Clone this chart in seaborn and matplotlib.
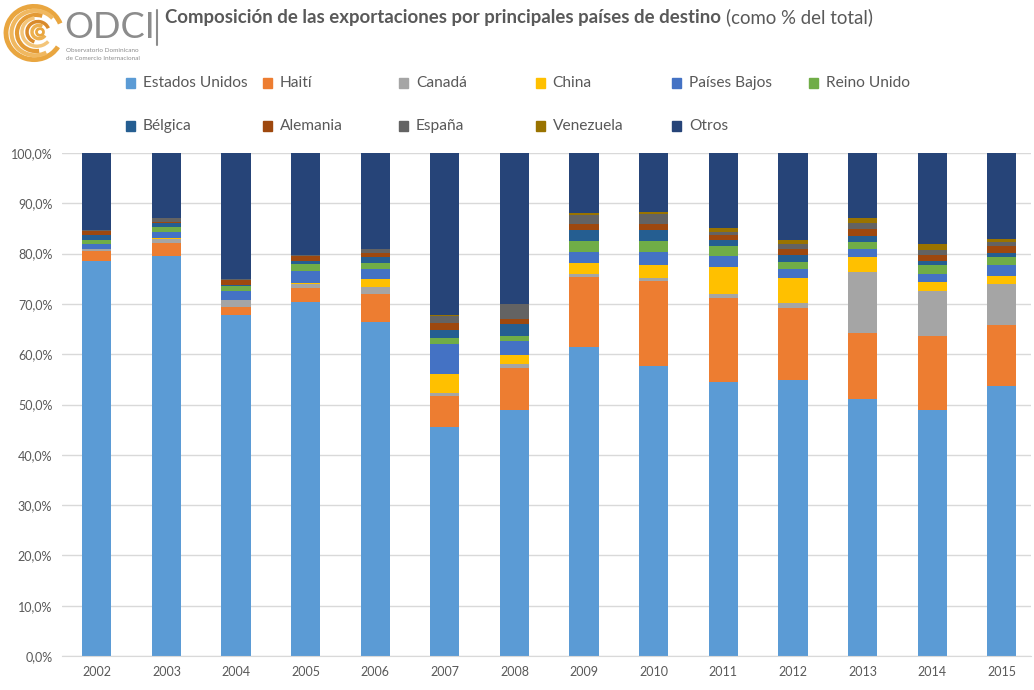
import matplotlib
matplotlib.use("Agg")
import matplotlib.pyplot as plt
from matplotlib.patches import Rectangle, Arc
from matplotlib.ticker import FuncFormatter
import numpy as np
import seaborn as sns

years = [str(y) for y in range(2002, 2016)]
countries = ["Estados Unidos", "Haití", "Canadá", "China", "Países Bajos", "Reino Unido",
             "Bélgica", "Alemania", "España", "Venezuela", "Otros"]
colors = ["#5B9BD5", "#ED7D31", "#A5A5A5", "#FFC000", "#4472C4", "#70AD47",
          "#255E91", "#9E480E", "#636363", "#997300", "#264478"]

# shares of total exports (%)
estados_unidos = [78.6, 79.5, 67.8, 70.3, 66.5, 45.5, 48.9, 61.5, 57.7, 54.5, 54.9, 51.1, 49.0, 53.7]
haiti = [1.9, 2.7, 1.5, 2.8, 5.4, 6.2, 8.4, 13.9, 16.9, 16.7, 14.3, 13.2, 14.6, 12.1]
canada = [0.5, 0.8, 1.4, 0.8, 1.5, 0.5, 0.7, 0.5, 0.5, 0.7, 0.9, 12.0, 9.0, 8.2]
china = [0.0, 0.1, 0.1, 0.3, 1.5, 3.8, 1.8, 2.3, 2.6, 5.4, 5.1, 3.1, 1.8, 1.5]
paises_bajos = [0.9, 1.1, 1.8, 2.3, 2.1, 6.0, 2.8, 2.2, 2.7, 2.2, 1.7, 1.6, 1.5, 2.2]
reino_unido = [0.9, 1.0, 1.0, 1.4, 1.2, 1.2, 1.0, 2.1, 2.1, 2.0, 1.5, 1.4, 1.8, 1.7]
belgica = [0.8, 0.8, 0.2, 0.6, 1.1, 1.7, 2.5, 2.1, 2.1, 1.2, 1.3, 1.1, 0.9, 0.8]
alemania = [0.8, 0.3, 0.9, 1.0, 0.8, 1.4, 0.9, 1.2, 1.2, 1.0, 1.2, 1.4, 1.1, 1.3]
espana = [0.3, 0.8, 0.3, 0.2, 0.8, 1.3, 2.9, 1.9, 2.0, 0.5, 1.0, 1.1, 1.0, 0.9]
venezuela = [0.0, 0.0, 0.0, 0.0, 0.0, 0.1, 0.1, 0.3, 0.4, 0.8, 0.8, 1.0, 1.2, 0.6]
otros = [15.3, 12.9, 25.0, 20.3, 19.1, 32.3, 30.0, 12.0, 11.8, 15.0, 17.3, 13.0, 18.1, 17.0]

series = [estados_unidos, haiti, canada, china, paises_bajos, reino_unido,
          belgica, alemania, espana, venezuela, otros]

sns.set_style("white")
plt.rcParams["font.family"] = ["Lato", "DejaVu Sans"]

W, H = 1034, 690
fig = plt.figure(figsize=(W / 100, H / 100), dpi=100)
ax = fig.add_axes([62 / W, 1 - 656 / H, (1031 - 62) / W, (656 - 153) / H])

# stacked bars: draw cumulative totals from the top layer down
cum = np.cumsum(np.array(series), axis=0)
for i in range(len(series) - 1, -1, -1):
    sns.barplot(x=years, y=cum[i], color=colors[i], saturation=1, width=0.42,
                errorbar=None, linewidth=0, ax=ax, zorder=2)

ax.set_ylim(0, 100)
ax.set_xlim(-0.5, 13.42)
ax.set_yticks(np.arange(0, 101, 10))
ax.yaxis.set_major_formatter(FuncFormatter(lambda v, p: f"{v:.1f}%".replace(".", ",")))
ax.yaxis.grid(True, color="#D9D9D9", lw=1, zorder=0)
ax.set_axisbelow(True)
for s in ["left", "right", "top"]:
    ax.spines[s].set_visible(False)
ax.spines["bottom"].set_color("#D9D9D9")
ax.tick_params(axis="both", length=0, labelcolor="#595959", labelsize=9)
ax.tick_params(axis="y", pad=7)
ax.tick_params(axis="x", pad=7)
ax.set_xlabel("")
ax.set_ylabel("")

# legend, laid out like the Excel one (equal column widths)
for i, (name, c) in enumerate(zip(countries, colors)):
    row, col = divmod(i, 6)
    px = 126 + col * 136.5
    py = 83 + row * 43
    fig.patches.append(Rectangle((px / W, 1 - (py + 4.5) / H), 9 / W, 9 / H,
                                 transform=fig.transFigure, color=c))
    fig.text((px + 17) / W, 1 - py / H, name, fontsize=11.2, color="#595959",
             va="center", ha="left")

# title
renderer = fig.canvas.get_renderer()
t1 = fig.text(165 / W, 1 - 17 / H, "Composición de las exportaciones por principales países de destino",
              fontsize=13.4, fontweight="bold", color="#595959", va="center", ha="left")
bb = t1.get_window_extent(renderer)
fig.text(bb.x1 / W + 5 / W, 1 - 17 / H, "(como % del total)", fontsize=13.4,
         color="#595959", va="center", ha="left")

# logo
lax = fig.add_axes([0, 1 - 66 / H, 66 / W, 66 / H])
lax.set_xlim(0, 66)
lax.set_ylim(0, 66)
lax.axis("off")
arcs = [((34, 33), 56, 20, 330, "#E9A640", 3.5), ((35, 33), 47, 40, 300, "#F0B860", 3),
        ((36, 33), 38, 70, 280, "#E39A35", 3), ((37, 34), 30, 100, 320, "#F3C57A", 2.5),
        ((38, 34), 22, 20, 250, "#D98A2B", 2.5), ((39, 34), 14, 60, 330, "#EDB04F", 2.5),
        ((40, 34), 7, 0, 360, "#E8A640", 2)]
for ctr, d, t0, t1a, c, lw in arcs:
    lax.add_patch(Arc(ctr, d, d * 0.95, theta1=t0, theta2=t1a, color=c, lw=lw))
fig.text(64 / W, 1 - 28 / H, "ODCI", fontsize=26, color="#8C8C8C", va="center", ha="left")
fig.lines.append(plt.Line2D([157 / W, 157 / W], [1 - 10 / H, 1 - 45 / H],
                            transform=fig.transFigure, color="#8C8C8C", lw=1.5))
fig.text(66 / W, 1 - 51 / H, "Observatorio Dominicano", fontsize=4.6, color="#8C8C8C", va="center")
fig.text(66 / W, 1 - 58 / H, "de Comercio Internacional", fontsize=4.6, color="#8C8C8C", va="center")

fig.savefig("out.png", dpi=100)
